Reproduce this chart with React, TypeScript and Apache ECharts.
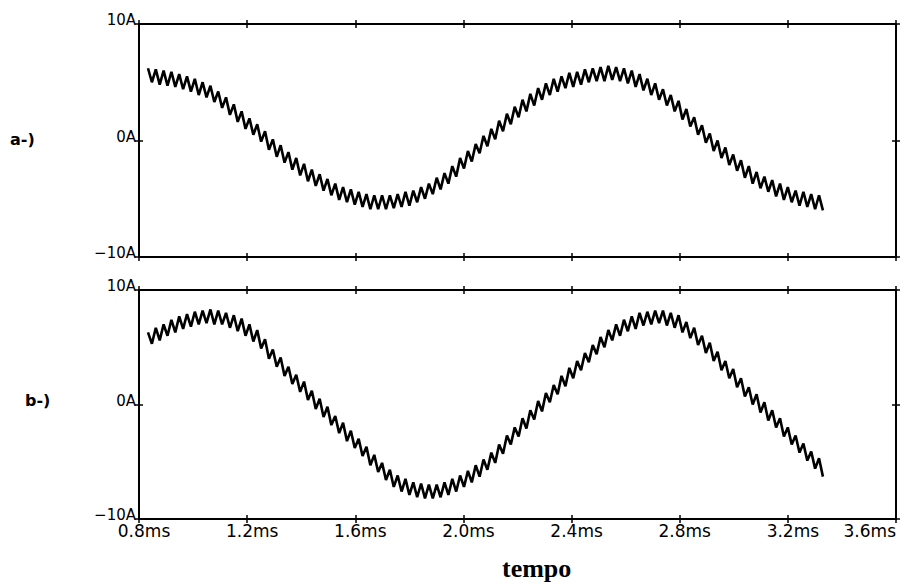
import { useEffect, useRef } from "react";
import * as echarts from "echarts";

// Time axis ticks (ms) and their labels
const X_TICKS = [0.8, 1.2, 1.6, 2.0, 2.4, 2.8, 3.2, 3.6];
const X_TICK_LABELS = ["0.8ms", "1.2ms", "1.6ms", "2.0ms", "2.4ms", "2.8ms", "3.2ms", "3.6ms"];
// Current axis ticks (A) and their labels
const Y_TICKS = [-10, 0, 10];
const Y_TICK_LABELS = ["\u221210A", "0A", "10A"];
const PANEL_LABELS = ["a-)", "b-)"];
const X_TITLE = "tempo";

// Samples are taken at every ripple peak / valley
const SAMPLE_START_MS = 0.8333;
const SAMPLE_STEP_MS = 0.01443;

// Panel a-) current (A)
const CURRENT_A = [
  6.2, 5.0, 6.1, 4.8, 6.0, 4.7, 5.9, 4.6, 5.7, 4.4,
  5.5, 4.2, 5.3, 3.9, 5.0, 3.7, 4.7, 3.3, 4.2, 2.8,
  3.7, 2.2, 3.1, 1.6, 2.5, 1.0, 1.9, 0.5, 1.4, -0.1,
  0.8, -0.8, 0.1, -1.4, -0.4, -1.9, -1.0, -2.5, -1.5, -3.0,
  -2.0, -3.5, -2.5, -3.9, -2.9, -4.3, -3.3, -4.7, -3.7, -5.1,
  -4.0, -5.3, -4.2, -5.5, -4.4, -5.7, -4.6, -5.9, -4.7, -5.9,
  -4.7, -5.9, -4.7, -5.8, -4.6, -5.7, -4.4, -5.6, -4.3, -5.3,
  -4.0, -5.0, -3.7, -4.6, -3.2, -4.2, -2.8, -3.7, -2.2, -3.1,
  -1.5, -2.4, -0.9, -1.8, -0.3, -1.1, 0.4, -0.5, 1.0, 0.1,
  1.7, 0.8, 2.3, 1.4, 2.9, 2.0, 3.5, 2.5, 4.0, 3.0,
  4.5, 3.5, 4.9, 3.9, 5.3, 4.2, 5.5, 4.5, 5.8, 4.6,
  5.9, 4.8, 6.1, 5.0, 6.2, 5.1, 6.3, 5.1, 6.4, 5.2,
  6.3, 5.1, 6.2, 4.9, 6.0, 4.6, 5.7, 4.3, 5.3, 3.9,
  4.9, 3.5, 4.4, 3.0, 3.9, 2.5, 3.4, 1.8, 2.7, 1.2,
  2.0, 0.5, 1.3, -0.2, 0.6, -0.9, 0.0, -1.5, -0.6, -2.1,
  -1.2, -2.6, -1.7, -3.2, -2.2, -3.7, -2.7, -4.1, -3.1, -4.4,
  -3.4, -4.8, -3.7, -5.1, -4.0, -5.3, -4.3, -5.6, -4.4, -5.7,
  -4.6, -5.9, -4.7, -6.0,
];

// Panel b-) current (A)
const CURRENT_B = [
  6.3, 5.3, 6.7, 5.6, 7.0, 6.0, 7.4, 6.3, 7.7, 6.6,
  7.9, 6.8, 8.1, 7.0, 8.2, 7.1, 8.3, 7.0, 8.2, 7.0,
  8.0, 6.7, 7.8, 6.4, 7.5, 6.0, 7.0, 5.5, 6.5, 4.9,
  5.7, 4.0, 4.8, 3.3, 4.1, 2.5, 3.3, 1.8, 2.6, 1.1,
  2.0, 0.4, 1.2, -0.4, 0.5, -1.1, -0.2, -1.8, -1.0, -2.5,
  -1.6, -3.2, -2.3, -3.8, -3.0, -4.5, -3.7, -5.3, -4.4, -5.9,
  -5.1, -6.6, -5.7, -7.2, -6.2, -7.6, -6.5, -7.9, -6.8, -8.1,
  -6.9, -8.2, -7.0, -8.2, -7.0, -8.1, -6.8, -7.9, -6.5, -7.6,
  -6.2, -7.2, -5.8, -6.8, -5.3, -6.3, -4.8, -5.7, -4.2, -5.1,
  -3.5, -4.3, -2.7, -3.5, -2.0, -2.8, -1.2, -2.1, -0.5, -1.3,
  0.3, -0.6, 1.0, 0.2, 1.7, 0.9, 2.5, 1.6, 3.2, 2.3,
  3.8, 3.0, 4.5, 3.7, 5.2, 4.4, 5.9, 5.0, 6.5, 5.6,
  7.0, 6.0, 7.4, 6.4, 7.7, 6.6, 8.0, 6.9, 8.1, 7.0,
  8.2, 7.1, 8.2, 6.9, 8.0, 6.7, 7.8, 6.3, 7.2, 5.8,
  6.7, 5.2, 6.0, 4.5, 5.4, 3.8, 4.6, 3.0, 3.8, 2.3,
  3.1, 1.5, 2.3, 0.7, 1.5, 0.0, 0.9, -0.7, 0.2, -1.4,
  -0.5, -2.0, -1.2, -2.8, -2.0, -3.5, -2.7, -4.2, -3.4, -4.9,
  -4.1, -5.6, -4.7, -6.3,
];

const SANS = "'DejaVu Sans', sans-serif";
const INK = "#000";

function labelFor(ticks: number[], labels: string[], v: number): string {
  let best = 0;
  for (let i = 1; i < ticks.length; i++) {
    if (Math.abs(ticks[i] - v) < Math.abs(ticks[best] - v)) best = i;
  }
  return labels[best];
}

const GRIDS = [
  { left: 139, right: 8, top: 24, height: 233 },
  { left: 139, right: 8, top: 290, height: 229 },
];

function tick(inside: boolean) {
  return { show: true, inside, length: 4, lineStyle: { color: INK, width: 1.5 } };
}

function xAxesFor(gridIndex: number, withLabels: boolean) {
  const base = {
    type: "value",
    gridIndex,
    min: 0.8,
    max: 3.6,
    interval: 0.4,
    splitLine: { show: false },
    axisLine: { show: true, onZero: false, lineStyle: { color: INK, width: 2 } },
  };
  return [
    {
      ...base,
      position: "bottom",
      axisTick: tick(false),
      axisLabel: withLabels
        ? {
            show: true,
            color: INK,
            fontFamily: SANS,
            fontSize: 17,
            margin: 3,
            padding: [0, 0, 0, 10],
            alignMaxLabel: "right",
            formatter: (v: number) => labelFor(X_TICKS, X_TICK_LABELS, v),
          }
        : { show: false },
    },
    { ...base, position: "bottom", axisTick: tick(true), axisLabel: { show: false } },
    { ...base, position: "top", axisTick: tick(false), axisLabel: { show: false } },
    { ...base, position: "top", axisTick: tick(true), axisLabel: { show: false } },
  ];
}

function yAxesFor(gridIndex: number) {
  const base = {
    type: "value",
    gridIndex,
    min: -10,
    max: 10,
    interval: 10,
    splitLine: { show: false },
    axisLine: { show: true, onZero: false, lineStyle: { color: INK, width: 2 } },
  };
  return [
    {
      ...base,
      position: "left",
      axisTick: tick(false),
      axisLabel: {
        show: true,
        color: INK,
        fontFamily: SANS,
        fontSize: 15,
        lineHeight: 8,
        verticalAlign: "bottom",
        margin: 3,
        formatter: (v: number) => labelFor(Y_TICKS, Y_TICK_LABELS, v),
      },
    },
    { ...base, position: "left", axisTick: tick(true), axisLabel: { show: false } },
    { ...base, position: "right", axisTick: tick(false), axisLabel: { show: false } },
    { ...base, position: "right", axisTick: tick(true), axisLabel: { show: false } },
  ];
}

function trace(values: number[]) {
  return values.map((v, i) => [SAMPLE_START_MS + i * SAMPLE_STEP_MS, v]);
}

export default function App() {
  const ref = useRef<HTMLDivElement>(null);

  useEffect(() => {
    if (!ref.current) return;
    const chart = echarts.init(ref.current, undefined, { renderer: "svg" });
    chart.setOption({
      animation: false,
      backgroundColor: "#fff",
      title: {
        text: X_TITLE,
        left: 502,
        top: 555,
        padding: 0,
        textStyle: {
          fontFamily: "'Liberation Serif', 'Times New Roman', serif",
          fontWeight: "bold",
          fontSize: 26,
          color: INK,
        },
      },
      grid: GRIDS,
      xAxis: [...xAxesFor(0, false), ...xAxesFor(1, true)],
      yAxis: [...yAxesFor(0), ...yAxesFor(1)],
      graphic: [
        {
          type: "text",
          x: 10,
          y: 139,
          style: {
            text: PANEL_LABELS[0],
            fill: INK,
            font: `bold 16px ${SANS}`,
            verticalAlign: "middle",
          },
        },
        {
          type: "text",
          x: 25,
          y: 400,
          style: {
            text: PANEL_LABELS[1],
            fill: INK,
            font: `bold 16px ${SANS}`,
            verticalAlign: "middle",
          },
        },
      ],
      series: [
        {
          type: "line",
          xAxisIndex: 0,
          yAxisIndex: 0,
          data: trace(CURRENT_A),
          showSymbol: false,
          silent: true,
          lineStyle: { color: INK, width: 2.6 },
        },
        {
          type: "line",
          xAxisIndex: 4,
          yAxisIndex: 4,
          data: trace(CURRENT_B),
          showSymbol: false,
          silent: true,
          lineStyle: { color: INK, width: 2.6 },
        },
      ],
    });
    return () => chart.dispose();
  }, []);

  return (
    <div
      ref={ref}
      style={{ position: "absolute", left: 0, top: 0, width: 904, height: 585 }}
    />
  );
}
